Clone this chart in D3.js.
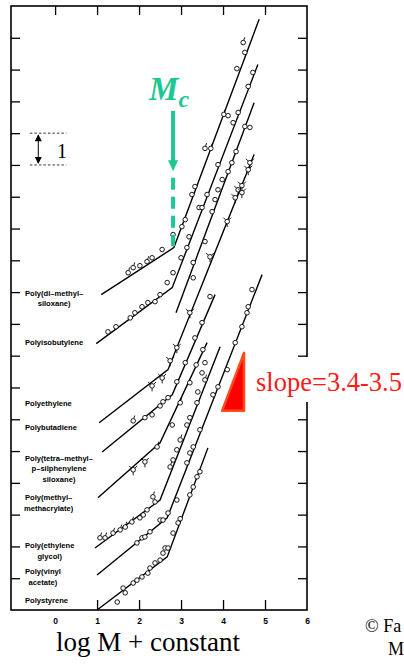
<!DOCTYPE html>
<html>
<head>
<meta charset="utf-8">
<script src="https://cdn.jsdelivr.net/npm/d3@7"></script>
<style>
  body { margin: 0; background: #fff; }
  svg { display: block; }
</style>
</head>
<body>
<svg id="chart" width="404" height="666"></svg>
<script>
// viscosity vs molecular weight, log-log, curves shifted by a constant
const xTicks = [0, 1, 2, 3, 4, 5, 6];
const yTicks = d3.range(1, 19);

// each curve: start of low-M branch, kink at Mc, end of the steep branch
const curves = [
  { name: "dms",   pts: [[1.10, 9.92], [2.83, 11.40], [4.86, 18.58]] },
  { name: "pib",   pts: [[0.98, 8.38], [2.79, 10.14], [4.83, 17.16]] },
  { name: "steep", pts: [[2.88, 9.35], [4.74, 15.96]] },
  { name: "pe",    pts: [[1.05, 5.89], [2.69, 7.56], [4.74, 14.33]] },
  { name: "pb",    pts: [[1.12, 4.97], [2.79, 6.77], [3.81, 9.92]] },
  { name: "tmps",  pts: [[1.02, 3.53], [2.50, 5.26], [3.62, 8.41]] },
  { name: "pmma",  pts: [[0.95, 1.95], [2.50, 3.46], [3.93, 8.28]] },
  { name: "peg",   pts: [[1.00, 1.10], [2.67, 2.90], [4.93, 10.55]] },
  { name: "ps",    pts: [[1.00, 0.00], [2.67, 1.67], [3.64, 5.10]] }
];

// measured points [logM, log eta, marker]
const dmsPts = [[1.74,10.61,"p"],[1.86,10.77,"p"],[2.02,10.83,"o"],[2.19,10.96,"p"],[2.31,11.08,"o"],
  [2.55,11.34,"o"],[2.81,11.81,"o"],[3.02,12.06,"o"],[3.10,12.28,"o"],[3.26,13.07,"o"],[3.33,13.32,"o"],
  [3.57,14.52,"p"],[3.71,14.52,"p"],[4.02,15.59,"p"],[4.12,15.55,"o"],[4.33,17.03,"o"],[4.52,17.54,"o"],[4.48,17.85,"p"]];
const pibPts = [[1.26,8.75,"o"],[1.45,8.91,"o"],[1.79,9.19,"o"],[1.90,9.35,"o"],[2.07,9.54,"o"],[2.21,9.67,"o"],
  [2.38,9.70,"o"],[2.50,9.92,"o"],[2.67,10.30,"o"],[2.81,10.61,"o"],[3.00,11.08,"o"],[3.14,11.40,"o"],
  [3.19,11.74,"o"],[3.43,12.66,"o"],[3.50,12.66,"o"],[3.62,13.07,"o"],[3.88,14.01,"o"],[4.24,15.33,"o"],
  [4.36,15.65,"o"],[4.60,16.47,"o"],[4.71,16.91,"o"]];
const steepPts = [[3.29,10.45,"o"],[3.29,10.93,"o"],[3.57,11.59,"o"],[3.74,12.53,"o"],[3.81,12.91,"o"],
  [3.88,13.22,"o"],[3.98,13.54,"o"],[4.12,13.79,"o"],[4.21,14.07,"o"],[4.31,14.42,"o"],[4.52,15.21,"o"],[4.64,15.18,"o"]];
const pePts = [[2.31,7.05,"x"],[2.55,7.30,"x"],[2.74,7.84,"x"],[2.90,8.25,"x"],[3.21,9.35,"x"],[3.69,11.11,"x"],
  [4.10,12.22,"x"],[4.29,12.97,"x"],[4.36,13.22,"x"],[4.45,13.35,"x"],[4.45,13.13,"x"],[4.60,13.85,"x"],[4.64,14.07,"x"]];
const pbPts = [[1.86,5.95,"p"],[2.14,6.05,"o"],[2.31,6.14,"o"],[2.50,6.42,"o"],[2.57,6.55,"o"],[2.69,6.68,"o"],
  [2.90,7.18,"o"],[3.10,7.78,"o"],[3.33,8.56,"o"],[3.50,9.04,"o"],[3.69,9.86,"o"]];
const tmpsPts = [[1.86,4.41,"x"],[2.14,4.66,"x"],[2.43,5.13,"p"],[2.79,5.82,"o"],[2.98,6.52,"p"],[3.21,7.15,"o"],
  [3.36,7.71,"o"],[3.52,8.19,"o"]];
const pmmaPts = [[1.07,2.27,"p"],[1.19,2.27,"p"],[1.38,2.42,"p"],[1.55,2.52,"p"],[1.67,2.61,"p"],[1.83,2.77,"p"],
  [2.02,2.90,"o"],[2.10,2.99,"o"],[2.19,3.15,"o"],[2.33,3.56,"p"],[2.38,3.40,"o"],[2.74,4.50,"p"],[2.81,4.72,"o"],
  [2.90,5.04,"o"],[2.98,5.35,"p"],[3.14,5.82,"o"],[3.21,6.05,"o"],[3.38,6.52,"o"],[3.40,6.86,"o"],[3.57,7.24,"p"],
  [3.50,7.46,"o"],[3.57,7.78,"o"]];
const pegPts = [[1.95,2.11,"o"],[2.07,2.27,"o"],[2.14,2.30,"o"],[2.26,2.46,"o"],[2.50,2.83,"o"],[2.57,2.83,"o"],
  [2.69,3.05,"o"],[2.90,3.46,"o"],[3.14,4.63,"o"],[3.21,4.94,"o"],[3.29,5.13,"o"],[3.45,5.67,"o"],[3.76,6.77,"o"],
  [3.88,7.02,"o"],[4.10,7.56,"o"],[4.29,8.41,"o"],[4.45,8.91,"o"],[4.57,9.35,"o"],[4.60,9.54,"o"],[4.69,10.08,"o"]];
const psPts = [[1.48,0.25,"o"],[1.62,0.69,"o"],[1.67,0.54,"o"],[1.86,0.85,"o"],[1.95,0.94,"o"],[2.07,1.04,"o"],
  [2.21,1.16,"o"],[2.26,1.32,"o"],[2.38,1.48,"o"],[2.50,1.57,"o"],[2.57,1.79,"o"],[2.62,1.95,"o"],[2.69,1.95,"o"],
  [2.81,2.42,"o"],[2.93,2.74,"o"],[2.98,2.87,"o"],[3.21,3.62,"o"],[3.29,3.87,"o"],[3.38,4.19,"o"],[3.45,4.35,"o"]];

// polymer names, first baseline given in y units
const polymers = [
  { lines: ["Poly(di–methyl–", "siloxane)"], y: 9.89 },
  { lines: ["Polyisobutylene"], y: 8.34 },
  { lines: ["Polyethylene"], y: 6.42 },
  { lines: ["Polybutadiene"], y: 5.67 },
  { lines: ["Poly(tetra–methyl–", "p–silphenylene", "siloxane)"], y: 4.69 },
  { lines: ["Poly(methyl–", "methacrylate)"], y: 3.46 },
  { lines: ["Poly(ethylene", "glycol)"], y: 1.95 },
  { lines: ["Poly(vinyl", "acetate)"], y: 1.13 },
  { lines: ["Polystyrene"], y: 0.22 }
];

const mcX = 2.81;          // position of the Mc arrow
const slopeBase = [3.98, 6.27], slopeRun = 0.52, slopeVal = 3.5;

const x = d3.scaleLinear().domain([-1.05, 6]).range([11, 307]);
const y = d3.scaleLinear().domain([0, 19]).range([610, 6]);
const svg = d3.select("#chart");
const sans = "'Liberation Sans', Arial, sans-serif";
const serif = "'Liberation Serif', 'Times New Roman', serif";

// ticks, all pointing inward
function styleAxis(g) {
  g.select(".domain").remove();
  g.selectAll(".tick line").attr("stroke", "#000").attr("stroke-width", 1.3);
  g.attr("font-family", sans).attr("font-size", 8.5).attr("font-weight", "bold");
}
svg.append("g").attr("transform", `translate(0,${y(0)})`)
  .call(d3.axisBottom(x).tickValues(xTicks).tickFormat(d3.format("d"))
    .tickSizeInner(-10).tickSizeOuter(0).tickPadding(8))
  .call(styleAxis)
  .call(g => g.selectAll(".tick").filter(d => d === 0 || d === 6).select("line").remove());
svg.append("g").attr("transform", `translate(0,${y(19)})`)
  .call(d3.axisTop(x).tickValues(xTicks.slice(0, 6)).tickSizeInner(-9).tickSizeOuter(0).tickFormat(""))
  .call(styleAxis);
svg.append("g").attr("transform", `translate(${x(-1.05)},0)`)
  .call(d3.axisLeft(y).tickValues(yTicks).tickSizeInner(-9).tickSizeOuter(0).tickFormat(""))
  .call(styleAxis);
svg.append("g").attr("transform", `translate(${x(6)},0)`)
  .call(d3.axisRight(y).tickValues(yTicks).tickSizeInner(-9).tickSizeOuter(0).tickFormat(""))
  .call(styleAxis);

svg.append("rect")
  .attr("x", x(-1.05)).attr("y", y(19))
  .attr("width", x(6) - x(-1.05)).attr("height", y(0) - y(19))
  .attr("fill", "none").attr("stroke", "#000").attr("stroke-width", 1.6);

// curves
const line = d3.line().x(d => x(d[0])).y(d => y(d[1]));
svg.append("g").selectAll("path")
  .data(curves)
  .join("path")
  .attr("d", d => line(d.pts))
  .attr("fill", "none")
  .attr("stroke", "#000")
  .attr("stroke-width", 1.4);

// markers
const allPts = [dmsPts, pibPts, steepPts, pePts, pbPts, tmpsPts, pmmaPts, pegPts, psPts].flat();
const r = 2.3;
const mk = svg.append("g").attr("stroke", "#000").attr("stroke-width", 0.9);
allPts.forEach(p => {
  const cx = x(p[0]), cy = y(p[1]);
  const g = mk.append("g").attr("transform", `translate(${cx},${cy})`);
  if (p[2] === "p") {
    g.append("line").attr("x1", 0.6).attr("y1", -r).attr("x2", 1.6).attr("y2", -r - 3);
  }
  if (p[2] === "x") {
    [-135, -45, 90].forEach(a => {
      const t = a * Math.PI / 180;
      g.append("line")
        .attr("x1", r * Math.cos(t)).attr("y1", r * Math.sin(t))
        .attr("x2", (r + 3.2) * Math.cos(t)).attr("y2", (r + 3.2) * Math.sin(t));
    });
  }
  g.append("circle").attr("r", r).attr("fill", "#fff");
});

// polymer names
const lab = svg.append("g")
  .attr("font-family", sans).attr("font-size", 7.6).attr("font-weight", "bold").attr("fill", "#000");
polymers.forEach(p => {
  const first = lab.append("text").attr("x", 25).attr("y", y(p.y)).text(p.lines[0]);
  const mid = 25 + first.node().getComputedTextLength() / 2;
  p.lines.slice(1).forEach((t, i) => {
    lab.append("text").attr("x", mid).attr("y", y(p.y) + 10.5 * (i + 1))
      .attr("text-anchor", "middle").text(t);
  });
});

// x axis title
svg.append("text")
  .attr("x", 148).attr("y", 651)
  .attr("text-anchor", "middle")
  .attr("font-family", serif).attr("font-size", 27)
  .text("log M + constant");

svg.append("text").attr("x", 365).attr("y", 632)
  .attr("font-family", serif).attr("font-size", 18).text("© Fa");
svg.append("text").attr("x", 388).attr("y", 655)
  .attr("font-family", serif).attr("font-size", 18).text("M");

// unit scale bar
const bar = svg.append("g").attr("stroke", "#000");
[14, 15].forEach(v => {
  bar.append("line")
    .attr("x1", x(-0.6)).attr("x2", x(0.27)).attr("y1", y(v)).attr("y2", y(v))
    .attr("stroke-width", 0.8).attr("stroke-dasharray", "2.5,2");
});
const bx = x(-0.4);
bar.append("line").attr("x1", bx).attr("x2", bx).attr("y1", y(15) + 2).attr("y2", y(14) - 2)
  .attr("stroke-width", 1);
bar.append("path").attr("fill", "#000").attr("stroke", "none")
  .attr("d", `M${bx},${y(15) + 1}l-3.5,7h7zM${bx},${y(14) - 1}l-3.5,-7h7z`);
svg.append("text").attr("x", 57).attr("y", y(14) - 7)
  .attr("font-family", serif).attr("font-size", 20).text("1");

// slope annotation
svg.append("rect").attr("x", 250).attr("y", 357).attr("width", 154).attr("height", 45).attr("fill", "#fff");
const [sx, sy] = slopeBase;
svg.append("path")
  .attr("d", `M${x(sx)},${y(sy)}L${x(sx + slopeRun)},${y(sy + slopeRun * slopeVal)}L${x(sx + slopeRun)},${y(sy)}Z`)
  .attr("fill", "#ff0000").attr("stroke", "#ff4a1a").attr("stroke-width", 2.5)
  .attr("stroke-linejoin", "round");
svg.append("text").attr("x", 256).attr("y", 391)
  .attr("font-family", serif).attr("font-size", 26.5).attr("fill", "#ff1a1a")
  .text("slope=3.4-3.5");

// Mc marker
const teal = "#1ec793";
const ax = x(mcX);
svg.append("line").attr("x1", ax).attr("x2", ax).attr("y1", y(15.7)).attr("y2", y(14.1))
  .attr("stroke", teal).attr("stroke-width", 4);
svg.append("path").attr("fill", teal)
  .attr("d", `M${ax - 5},${y(14.15)}h10l-5,11z`);
svg.append("line").attr("x1", ax).attr("x2", ax).attr("y1", y(13.6)).attr("y2", y(11.45))
  .attr("stroke", teal).attr("stroke-width", 4).attr("stroke-dasharray", "12,7");
const mc = svg.append("text").attr("x", ax - 24).attr("y", 100)
  .attr("font-family", serif).attr("font-weight", "bold").attr("font-style", "italic")
  .attr("fill", teal).attr("font-size", 33).text("M");
mc.append("tspan").attr("font-size", 24).attr("dy", 7).text("c");
</script>
</body>
</html>
